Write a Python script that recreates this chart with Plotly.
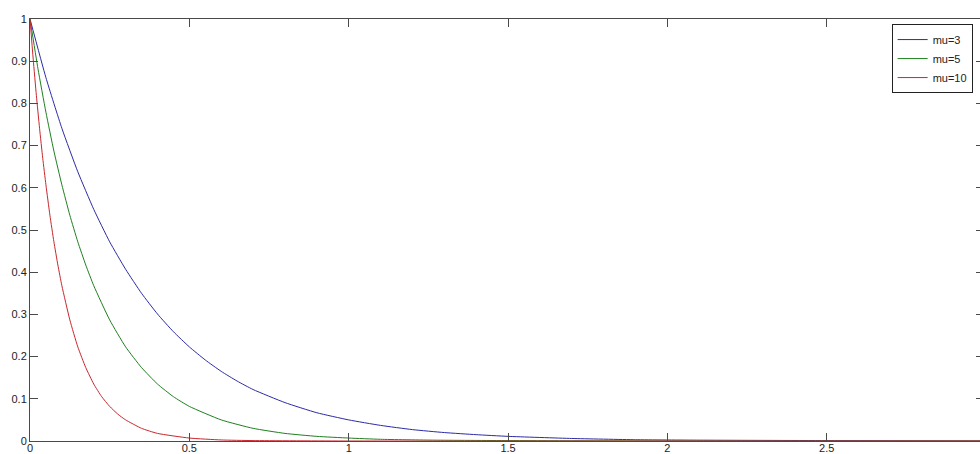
import plotly.graph_objects as go

# values
x_mu3 = [0, 0.05, 0.1, 0.15, 0.2, 0.25, 0.3, 0.35, 0.4, 0.45, 0.5, 0.55, 0.6, 0.65, 0.7, 0.8,
         0.9, 1.0, 1.1, 1.2, 1.3, 1.4, 1.5, 1.7, 1.9, 2.1, 2.5, 3.0]
y_mu3 = [1.0, 0.861, 0.741, 0.638, 0.549, 0.472, 0.407, 0.350, 0.301, 0.259, 0.223, 0.192,
         0.165, 0.142, 0.122, 0.091, 0.067, 0.050, 0.037, 0.027, 0.020, 0.015, 0.011, 0.006,
         0.003, 0.002, 0.001, 0.0]

x_mu5 = [0, 0.025, 0.05, 0.075, 0.1, 0.125, 0.15, 0.175, 0.2, 0.25, 0.3, 0.35, 0.4, 0.45,
         0.5, 0.6, 0.7, 0.8, 0.9, 1.0, 1.1, 1.27, 1.5, 2.0, 3.0]
y_mu5 = [1.0, 0.882, 0.779, 0.687, 0.607, 0.535, 0.472, 0.417, 0.368, 0.287, 0.223, 0.174,
         0.135, 0.105, 0.082, 0.050, 0.030, 0.018, 0.011, 0.007, 0.004, 0.002, 0.001, 0.0,
         0.0]

x_mu10 = [0, 0.01, 0.02, 0.03, 0.04, 0.05, 0.0625, 0.075, 0.0875, 0.1, 0.125, 0.15, 0.175,
          0.2, 0.225, 0.25, 0.275, 0.3, 0.35, 0.4, 0.5, 0.6, 0.7, 1.0, 3.0]
y_mu10 = [1.0, 0.905, 0.819, 0.741, 0.670, 0.607, 0.535, 0.472, 0.417, 0.368, 0.287, 0.223,
          0.174, 0.135, 0.105, 0.082, 0.064, 0.050, 0.030, 0.018, 0.007, 0.0025, 0.001, 0.0,
          0.0]

series_names = ["mu=3", "mu=5", "mu=10"]
series_colors = ["#2b2ba6", "#1f7f1f", "#c8282e"]

x_ticks = [0, 0.5, 1, 1.5, 2, 2.5]
x_tick_labels = ["0", "0.5", "1", "1.5", "2", "2.5"]
y_ticks = [0, 0.1, 0.2, 0.3, 0.4, 0.5, 0.6, 0.7, 0.8, 0.9, 1]
y_tick_labels = ["0", "0.1", "0.2", "0.3", "0.4", "0.5", "0.6", "0.7", "0.8", "0.9", "1"]

fig = go.Figure()
for xs, ys, name, col in zip([x_mu3, x_mu5, x_mu10], [y_mu3, y_mu5, y_mu10],
                             series_names, series_colors):
    fig.add_trace(go.Scatter(x=xs, y=ys, mode="lines", name=name,
                             line=dict(color=col, width=1, shape="spline",
                                       smoothing=0.5)))

# invisible trace so the right-hand tick axis is drawn
fig.add_trace(go.Scatter(x=[None], y=[None], yaxis="y2", showlegend=False,
                         hoverinfo="skip"))

axis_col = "#4a4a4a"
font = dict(family="Liberation Sans, Arial, sans-serif", size=11, color="#222222")

fig.update_layout(
    width=980, height=454,
    margin=dict(l=30, r=0, t=19, b=13, autoexpand=False),
    paper_bgcolor="white", plot_bgcolor="white",
    font=font,
    xaxis=dict(range=[0, 2.981], tickvals=x_ticks, ticktext=x_tick_labels,
               showgrid=False, zeroline=False, showline=True, linecolor=axis_col,
               linewidth=1, mirror="ticks", ticks="inside", ticklen=8,
               tickcolor=axis_col, automargin=False, ticklabelstandoff=-3),
    yaxis=dict(range=[0, 1], tickvals=y_ticks, ticktext=y_tick_labels,
               showgrid=False, zeroline=False, showline=True, linecolor=axis_col,
               linewidth=1, ticks="inside", ticklen=8, tickcolor=axis_col,
               automargin=False),
    yaxis2=dict(range=[0, 1], tickvals=y_ticks, overlaying="y", side="right",
                showgrid=False, zeroline=False, showline=False, ticks="inside",
                ticklen=4, tickcolor=axis_col, showticklabels=False),
    legend=dict(x=0.907, y=0.988, xanchor="left", yanchor="top",
                bgcolor="white", bordercolor="#222222", borderwidth=1,
                font=dict(family="Liberation Sans, Arial, sans-serif", size=11,
                          color="#222222"),
                tracegroupgap=0, itemwidth=30),
    showlegend=True,
)

fig.write_html(
    "out.html",
    config={"displayModeBar": False},
    post_script="document.body.style.margin='0';document.body.style.overflow='hidden';",
)
